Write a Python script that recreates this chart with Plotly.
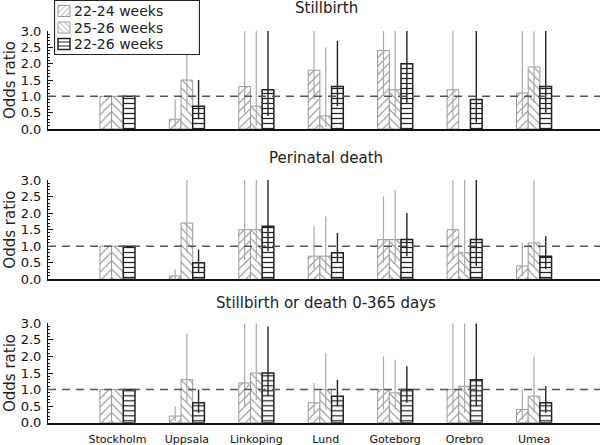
import plotly.graph_objects as go

categories = ["Stockholm", "Uppsala", "Linkoping", "Lund", "Goteborg", "Orebro", "Umea"]
series_names = ["22-24 weeks", "25-26 weeks", "22-26 weeks"]
panel_titles = ["Stillbirth", "Perinatal death", "Stillbirth or death 0-365 days"]
y_ticks = [0.0, 0.5, 1.0, 1.5, 2.0, 2.5, 3.0]

# Panel 1: Stillbirth
still_or_2224 = [1.0, 0.3, 1.3, 1.8, 2.4, 1.2, 1.1]
still_lo_2224 = [1.0, 0.05, 0.5, 0.9, 1.0, 0.3, 0.4]
still_hi_2224 = [1.0, 0.9, 3.0, 3.0, 3.0, 3.0, 3.0]
still_or_2526 = [1.0, 1.5, 0.7, 0.4, 1.2, None, 1.9]
still_lo_2526 = [1.0, 0.6, 0.1, 0.05, 0.4, None, 0.8]
still_hi_2526 = [1.0, 3.0, 3.0, 2.5, 3.0, None, 3.0]
still_or_2226 = [1.0, 0.7, 1.2, 1.3, 2.0, 0.9, 1.3]
still_lo_2226 = [1.0, 0.3, 0.4, 0.7, 0.8, 0.2, 0.5]
still_hi_2226 = [1.0, 1.5, 3.0, 2.7, 3.0, 3.0, 3.0]

# Panel 2: Perinatal death
peri_or_2224 = [1.0, 0.1, 1.5, 0.7, 1.2, 1.5, 0.4]
peri_lo_2224 = [1.0, 0.02, 0.6, 0.3, 0.5, 0.6, 0.1]
peri_hi_2224 = [1.0, 0.3, 3.0, 1.6, 2.5, 3.0, 1.1]
peri_or_2526 = [1.0, 1.7, 1.5, 0.7, 1.2, 0.8, 1.1]
peri_lo_2526 = [1.0, 0.8, 0.6, 0.2, 0.5, 0.2, 0.4]
peri_hi_2526 = [1.0, 3.0, 3.0, 1.9, 2.7, 3.0, 3.0]
peri_or_2226 = [1.0, 0.5, 1.6, 0.8, 1.2, 1.2, 0.7]
peri_lo_2226 = [1.0, 0.2, 0.85, 0.5, 0.7, 0.4, 0.3]
peri_hi_2226 = [1.0, 0.9, 3.0, 1.4, 2.0, 3.0, 1.3]

# Panel 3: Stillbirth or death 0-365 days
all_or_2224 = [1.0, 0.2, 1.2, 0.6, 1.0, 1.0, 0.4]
all_lo_2224 = [1.0, 0.05, 0.5, 0.3, 0.4, 0.3, 0.1]
all_hi_2224 = [1.0, 0.5, 3.0, 1.2, 2.0, 3.0, 1.0]
all_or_2526 = [1.0, 1.3, 1.5, 1.0, 0.9, 1.1, 0.8]
all_lo_2526 = [1.0, 0.6, 0.7, 0.4, 0.4, 0.3, 0.3]
all_hi_2526 = [1.0, 2.7, 3.0, 2.1, 1.9, 3.0, 2.0]
all_or_2226 = [1.0, 0.6, 1.5, 0.8, 1.0, 1.3, 0.6]
all_lo_2226 = [1.0, 0.3, 0.8, 0.5, 0.6, 0.5, 0.3]
all_hi_2226 = [1.0, 1.0, 2.9, 1.3, 1.7, 3.0, 1.1]

panels = [
    [(still_or_2224, still_lo_2224, still_hi_2224),
     (still_or_2526, still_lo_2526, still_hi_2526),
     (still_or_2226, still_lo_2226, still_hi_2226)],
    [(peri_or_2224, peri_lo_2224, peri_hi_2224),
     (peri_or_2526, peri_lo_2526, peri_hi_2526),
     (peri_or_2226, peri_lo_2226, peri_hi_2226)],
    [(all_or_2224, all_lo_2224, all_hi_2224),
     (all_or_2526, all_lo_2526, all_hi_2526),
     (all_or_2226, all_lo_2226, all_hi_2226)],
]

W, H = 606, 445
L, R = 48, 6
PW = W - L - R

styles = [
    dict(shape="/", fg="#8a8a8a", line="#9a9a9a", lw=1.0, err="#aaaaaa", ew=1.2, size=6, sol=0.18),
    dict(shape="\\", fg="#8a8a8a", line="#9a9a9a", lw=1.0, err="#aaaaaa", ew=1.2, size=6, sol=0.18),
    dict(shape="-", fg="#222222", line="#222222", lw=1.5, err="#222222", ew=1.4, size=5, sol=0.25),
]

# panel pixel extents (top, bottom) of plot areas
panel_px = [(31, 129), (180, 279.3), (323.3, 422.7)]
title_px = [8, 158, 303]

FONT = "DejaVu Sans"

fig = go.Figure()

def diff(a, b):
    return [None if (x is None or y is None) else x - y for x, y in zip(a, b)]

for p, series in enumerate(panels):
    ax = "" if p == 0 else str(p + 1)
    for s, (vals, lo, hi) in enumerate(series):
        st = styles[s]
        fig.add_trace(go.Bar(
            x=categories, y=vals, name=series_names[s], showlegend=False,
            xaxis="x" + ax, yaxis="y" + ax,
            marker=dict(color="white",
                        line=dict(color=st["line"], width=st["lw"]),
                        pattern=dict(shape=st["shape"], fgcolor=st["fg"], bgcolor="white",
                                     size=st["size"], solidity=st["sol"], fillmode="replace")),
            error_y=dict(type="data", symmetric=False, array=diff(hi, vals),
                         arrayminus=diff(vals, lo), color=st["err"],
                         thickness=st["ew"], width=0),
        ))

layout = dict(
    width=W, height=H,
    margin=dict(l=L, r=R, t=0, b=0, pad=0, autoexpand=False),
    paper_bgcolor="white", plot_bgcolor="rgba(0,0,0,0)",
    barmode="group", bargap=0.495, bargroupgap=0,
    font=dict(family=FONT, size=13, color="#111"),
    showlegend=False,
)

annotations = []
shapes = []
for p in range(3):
    top, bot = panel_px[p]
    dom = [1 - bot / H, 1 - top / H]
    key = "" if p == 0 else str(p + 1)
    layout["xaxis" + key] = dict(
        domain=[0, 1], range=[-1.0, 6.95], type="category", automargin=False,
        anchor="y" + key, showline=True, linecolor="#111", linewidth=2,
        ticks="", showgrid=False, zeroline=False, ticklabelstandoff=5,
        showticklabels=(p == 2), tickfont=dict(size=11, family=FONT, color="#111"),
    )
    layout["yaxis" + key] = dict(
        domain=dom, range=[0, 3.0], anchor="x" + key, automargin=False,
        showline=True, linecolor="#111", linewidth=1,
        ticks="inside", ticklen=5, tickcolor="#111", tickwidth=1,
        tickvals=y_ticks, tickformat=".1f", showgrid=False, zeroline=False,
        tickfont=dict(size=13, family=FONT, color="#111"), ticklabelstandoff=3,
        minor=dict(ticks="inside", dtick=0.1, ticklen=2, tickcolor="#111", showgrid=False),
    )
    shapes.append(dict(type="line", xref="x" + key + " domain", yref="y" + key,
                       x0=0, x1=1, y0=1.0, y1=1.0,
                       line=dict(color="#555555", width=1.5, dash="8px,6px"), layer="above"))
    annotations.append(dict(text=panel_titles[p], xref="paper", yref="paper",
                            x=(326 - L) / PW, y=1 - title_px[p] / H,
                            xanchor="center", yanchor="middle", showarrow=False,
                            font=dict(size=15, family=FONT, color="#222")))
    annotations.append(dict(text="Odds ratio", xref="paper", yref="paper",
                            x=(10 - L) / PW, y=1 - (top + bot) / 2 / H, textangle=-90,
                            xanchor="center", yanchor="middle", showarrow=False,
                            font=dict(size=15, family=FONT, color="#222")))

# Legend drawn as its own small subplot (box + pattern swatches + text)
LX0, LX1, LY0, LY1 = 54, 200, 0, 55
layout["xaxis4"] = dict(domain=[(LX0 - L) / PW, (LX1 - L) / PW], range=[0, LX1 - LX0],
                        anchor="y4", visible=False, fixedrange=True, automargin=False)
layout["yaxis4"] = dict(domain=[1 - LY1 / H, 1 - LY0 / H], range=[LY1 - LY0, 0],
                        anchor="x4", visible=False, fixedrange=True, automargin=False)
# box
fig.add_trace(go.Bar(x=[0.5], y=[54], base=[0.5], width=[145], offset=[0],
                     xaxis="x4", yaxis="y4", showlegend=False, hoverinfo="skip",
                     marker=dict(color="white", line=dict(color="#222", width=1.2))))
row_c = [11.0, 27.5, 44.0]
fig.add_trace(go.Bar(
    x=[4, 4, 4], y=[11, 11, 11], base=[c - 5.5 for c in row_c], width=[12, 12, 12],
    offset=[0, 0, 0],
    xaxis="x4", yaxis="y4", showlegend=False, hoverinfo="skip",
    marker=dict(color="white",
                line=dict(color=[st["line"] for st in styles], width=[st["lw"] for st in styles]),
                pattern=dict(shape=[st["shape"] for st in styles],
                             fgcolor=[st["fg"] for st in styles], bgcolor="white",
                             size=[4, 4, 4], solidity=[st["sol"] for st in styles],
                             fillmode="replace")),
))
for name, c in zip(series_names, row_c):
    annotations.append(dict(text=name, xref="x4", yref="y4", x=19, y=c,
                            xanchor="left", yanchor="middle", showarrow=False,
                            borderpad=0,
                            font=dict(size=14, family=FONT, color="#222")))

layout["annotations"] = annotations
layout["shapes"] = shapes
fig.update_layout(**layout)
fig.write_html("out.html", config={"displayModeBar": False},
               post_script="document.body.style.margin='0';document.body.style.overflow='hidden';")
